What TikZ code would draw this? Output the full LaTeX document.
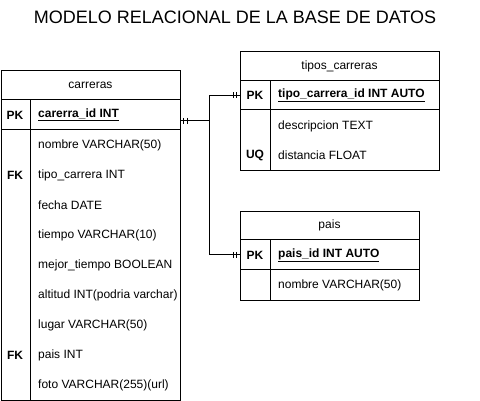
\documentclass[tikz,border=0pt]{standalone}
\usepackage{fontspec}
\setmainfont{Liberation Sans}
\usetikzlibrary{positioning,calc}

\tikzset{
  tbl/.style={draw, line width=1pt, anchor=north west, inner sep=0pt},
  hdr/.style={font=\fontsize{12}{14}\selectfont, inner sep=0pt},
  fld/.style={anchor=west, font=\fontsize{12}{14}\selectfont, inner sep=0pt},
  key/.style={font=\fontsize{12}{14}\selectfont\bfseries, inner sep=0pt},
  rel/.style={line width=1pt},
}

\begin{document}
\begin{tikzpicture}[x=1pt,y=-1pt]
    \useasboundingbox (0,0) rectangle (480,401);

    % Title
    \node[font=\fontsize{18}{20}\selectfont] (title) at (235,17) {MODELO RELACIONAL DE LA BASE DE DATOS};

    % Table carreras
    \node[tbl, minimum width=179, minimum height=330] (carreras) at (1,70) {};
    \draw[rel] (1,100) -- (180,100);
    \draw[rel] (1,130) -- (180,130);
    \draw[rel] (30,100) -- (30,400);
    \node[hdr] (carrerasName) at (90.5,85) {carreras};
    \node[key] (carrerasPKkey) at (15,115) {PK};
    \node[fld] (carrerasPK) at (38,115) {\textbf{\underline{carerra\_id INT}}};
    \node[fld] (carrerasNombre) at (38,145) {nombre VARCHAR(50)};
    \node[key] (carrerasFKtipo) at (15,175) {FK};
    \node[fld] (carrerasTipo) at (38,175) {tipo\_carrera INT};
    \node[fld] (carrerasFecha) at (38,205) {fecha DATE};
    \node[fld] (carrerasTiempo) at (38,235) {tiempo VARCHAR(10)};
    \node[fld] (carrerasMejor) at (38,265) {mejor\_tiempo BOOLEAN};
    \node[fld] (carrerasAltitud) at (38,295) {altitud INT(podria varchar)};
    \node[fld] (carrerasLugar) at (38,325) {lugar VARCHAR(50)};
    \node[key] (carrerasFKpais) at (15,355) {FK};
    \node[fld] (carrerasPais) at (38,355) {pais INT};
    \node[fld] (carrerasFoto) at (38,385) {foto VARCHAR(255)(url)};

    % Table tipos_carreras
    \node[tbl, minimum width=199, minimum height=119] (tipos) at (240,51) {};
    \draw[rel] (240,81) -- (439,81);
    \draw[rel] (240,110) -- (439,110);
    \draw[rel] (270,81) -- (270,170);
    \node[hdr] (tiposName) at (339.5,66) {tipos\_carreras};
    \node[key] (tiposPKkey) at (255,95.5) {PK};
    \node[fld] (tiposPK) at (278,95.5) {\textbf{\underline{tipo\_carrera\_id INT AUTO}}};
    \node[fld] (tiposDesc) at (278,126) {descripcion TEXT};
    \node[key] (tiposUQkey) at (255,155) {UQ};
    \node[fld] (tiposDist) at (278,155) {distancia FLOAT};

    % Table pais
    \node[tbl, minimum width=179, minimum height=89] (pais) at (240,211) {};
    \draw[rel] (240,240) -- (419,240);
    \draw[rel] (240,270) -- (419,270);
    \draw[rel] (270,240) -- (270,300);
    \node[hdr] (paisName) at (329.5,225.5) {pais};
    \node[key] (paisPKkey) at (255,255) {PK};
    \node[fld] (paisPK) at (278,255) {\textbf{\underline{pais\_id INT AUTO}}};
    \node[fld] (paisNombre) at (278,285) {nombre VARCHAR(50)};

    % Relations
    \coordinate (carrOut) at (180.5,121);
    \coordinate (junc) at (209,121);
    \coordinate (tiposIn) at (240,95.5);
    \coordinate (paisIn) at (240,255);
    \draw[rel] (carrOut) -- (junc) |- (tiposIn);
    \draw[rel] (junc) |- (paisIn);

    % one-and-only-one marks
    \draw[rel] ($(carrOut)+(3,-3)$) -- ++(0,6);
    \draw[rel] ($(carrOut)+(7,-3)$) -- ++(0,6);
    \draw[rel] ($(tiposIn)+(-7,-3)$) -- ++(0,6);
    \draw[rel] ($(tiposIn)+(-3.5,-3)$) -- ++(0,6);
    \draw[rel] ($(paisIn)+(-7,-3)$) -- ++(0,6);
    \draw[rel] ($(paisIn)+(-3.5,-3)$) -- ++(0,6);
\end{tikzpicture}
\end{document}
